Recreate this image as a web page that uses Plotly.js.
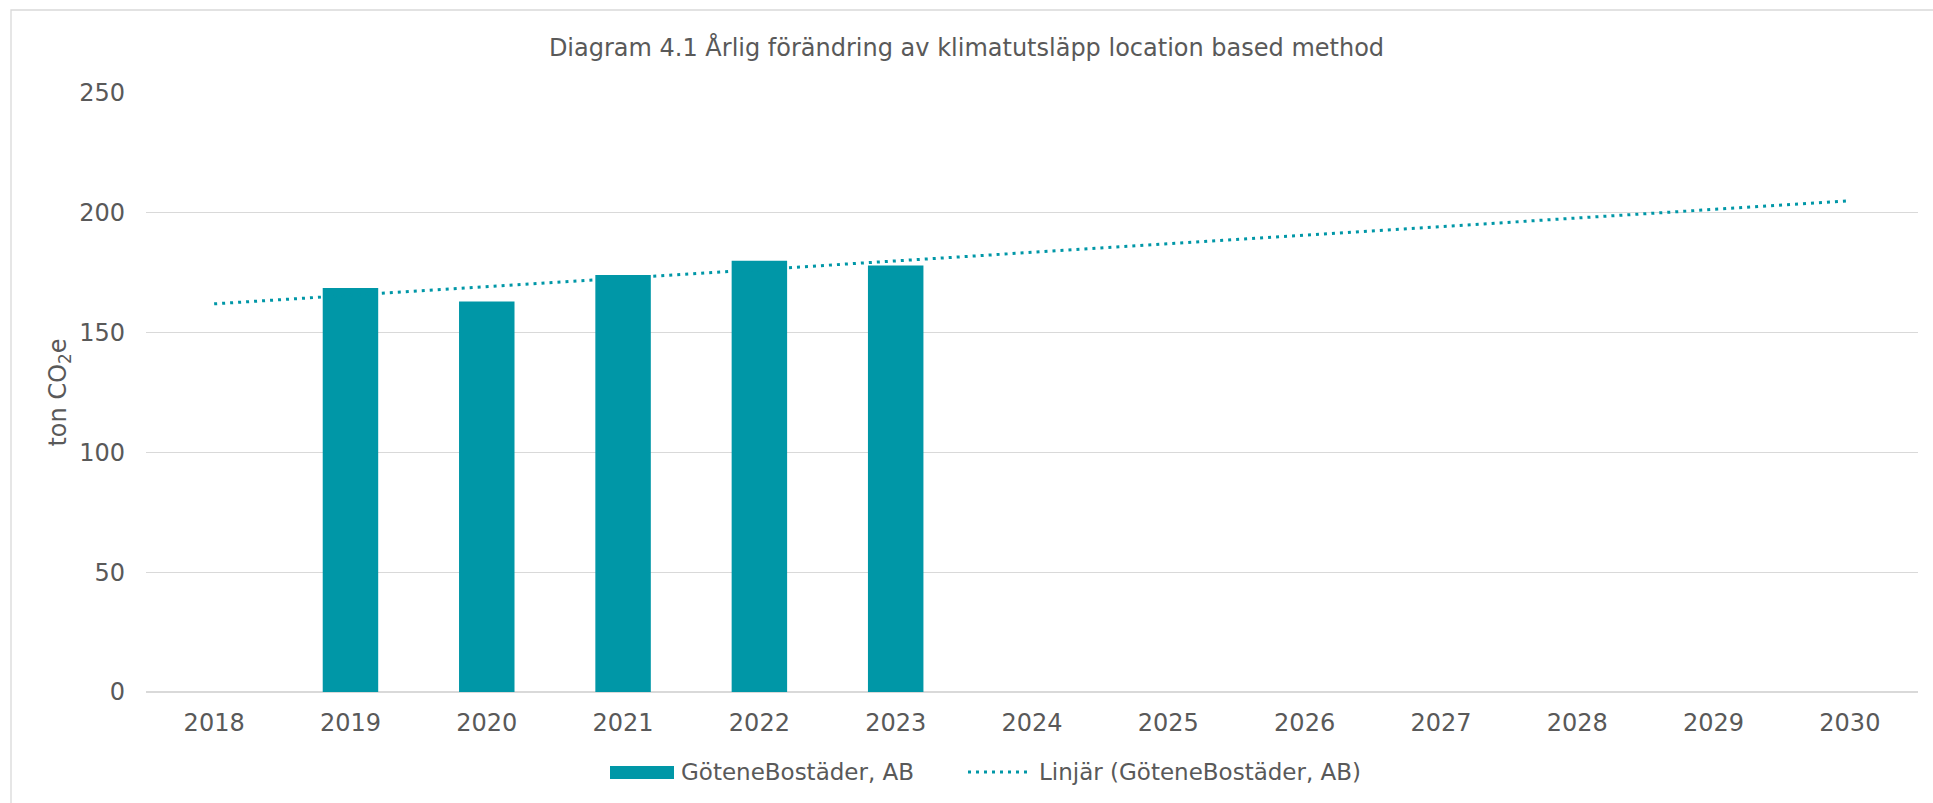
<!DOCTYPE html>
<html>
<head>
<meta charset="utf-8">
<script src="https://cdn.plot.ly/plotly-3.0.1.min.js"></script>
<style>html,body{margin:0;padding:0;background:#fff;}#chart{width:1933px;height:803px;}</style>
</head>
<body>
<div id="chart"></div>
<script>
// ---- data ----
const years = ['2018','2019','2020','2021','2022','2023','2024','2025','2026','2027','2028','2029','2030'];
const emissions = [null, 168.6, 163, 174, 180, 178, null, null, null, null, null, null, null];
const trendYears = ['2018', '2030'];
const trendValues = [162, 205];
const yTicks = [0, 50, 100, 150, 200, 250];
const seriesName = 'GöteneBostäder, AB';
const trendName = 'Linjär (GöteneBostäder, AB)';
const chartTitle = 'Diagram 4.1 Årlig förändring av klimatutsläpp location based method';

// ---- layout constants ----
const W = 1933, H = 803;
const M = {l: 146, r: 15, t: 93, b: 111};
const PW = W - M.l - M.r, PH = H - M.t - M.b;
const px = x => (x - M.l) / PW;
const py = y => (H - M.b - y) / PH;

const teal = '#0097a7';
const textCol = '#595959';
const gridCol = '#d9d9d9';
const FONT = 'DejaVu Sans, Verdana, sans-serif';
const FS = 24;
const LFS = 23;

const traces = [
  {type: 'bar', x: years, y: emissions, name: seriesName, marker: {color: teal}, showlegend: false, hoverinfo: 'x+y'},
  {type: 'scatter', mode: 'lines', x: trendYears, y: trendValues, name: trendName,
   line: {color: teal, width: 3, dash: '3px,5px'}, showlegend: false}
];

const layout = {
  width: W, height: H,
  margin: M,
  paper_bgcolor: '#fff', plot_bgcolor: '#fff',
  font: {family: FONT, color: textCol, size: FS},
  title: {text: chartTitle, x: 0.5, xanchor: 'center', y: 1 - 48 / H, yanchor: 'middle',
          font: {family: FONT, size: FS, color: textCol}},
  bargap: 0.593,
  xaxis: {type: 'category', categoryorder: 'array', categoryarray: years,
          showgrid: false, showline: false, zeroline: false, ticks: '',
          ticklabelstandoff: 14, tickfont: {size: FS, color: textCol}},
  yaxis: {range: [0, 250], tickvals: yTicks, showgrid: true, gridcolor: gridCol, gridwidth: 1.3,
          zeroline: true, zerolinecolor: gridCol, zerolinewidth: 1.3, showline: false, ticks: '',
          ticklabelstandoff: 20, tickfont: {size: FS, color: textCol},
          title: {text: 'ton CO<sub>2</sub>e', standoff: 5, font: {size: FS, color: textCol}}},
  showlegend: false,
  shapes: [
    {type: 'rect', xref: 'paper', yref: 'paper', x0: px(11), x1: px(1960), y0: py(830), y1: py(10),
     line: {color: gridCol, width: 1.3}, fillcolor: 'rgba(0,0,0,0)', layer: 'below'},
    {type: 'rect', xref: 'paper', yref: 'paper', x0: px(610), x1: px(674), y0: py(779), y1: py(766),
     line: {width: 0}, fillcolor: teal},
    {type: 'line', xref: 'paper', yref: 'paper', x0: px(968), x1: px(1032), y0: py(772), y1: py(772),
     line: {color: teal, width: 3, dash: '3px,5px'}}
  ],
  annotations: [
    {xref: 'paper', yref: 'paper', x: px(679), y: py(772), xanchor: 'left', yanchor: 'middle',
     text: seriesName, showarrow: false, font: {size: LFS, color: textCol}},
    {xref: 'paper', yref: 'paper', x: px(1037), y: py(772), xanchor: 'left', yanchor: 'middle',
     text: trendName, showarrow: false, font: {size: LFS, color: textCol}}
  ]
};

Plotly.newPlot('chart', traces, layout, {displayModeBar: false, staticPlot: true});
</script>
</body>
</html>
